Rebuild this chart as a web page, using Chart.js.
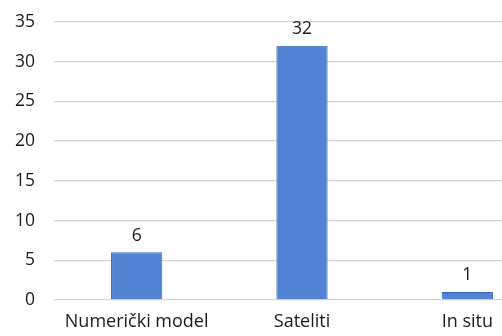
<!DOCTYPE html>
<html>
<head>
<meta charset="utf-8">
<script src="https://cdn.jsdelivr.net/npm/chart.js@4/dist/chart.umd.min.js"></script>
<style>
  html, body { margin: 0; padding: 0; background: #fff; overflow: hidden; }
  #wrap { width: 502px; height: 336px; overflow: hidden; position: relative; }
  #box { width: 552px; height: 336px; position: absolute; left: 0; top: 0; }
</style>
</head>
<body>
<div id="wrap"><div id="box"><canvas id="c"></canvas></div></div>
<script>
const categories = ['Numerički model', 'Sateliti', 'In situ'];
const counts = [6, 32, 1];
const yTicks = [0, 5, 10, 15, 20, 25, 30, 35];

const FONT = "'Open Sans', sans-serif";
const TEXT = '#1a1a1a';

// writes each bar's value just above it
const valueLabels = {
  id: 'valueLabels',
  afterDatasetsDraw(chart) {
    const ctx = chart.ctx;
    const meta = chart.getDatasetMeta(0);
    ctx.save();
    ctx.font = '17.5px ' + FONT;
    ctx.fillStyle = TEXT;
    ctx.textAlign = 'center';
    ctx.textBaseline = 'bottom';
    meta.data.forEach((bar, i) => {
      ctx.fillText(String(counts[i]), bar.x, bar.y - 8);
    });
    ctx.restore();
  }
};

new Chart(document.getElementById('c'), {
  type: 'bar',
  data: {
    labels: categories,
    datasets: [{
      data: counts,
      backgroundColor: '#5182d4',
      borderColor: '#3d68b3',
      borderWidth: 1,
      barPercentage: 1,
      categoryPercentage: 0.31
    }]
  },
  options: {
    responsive: true,
    maintainAspectRatio: false,
    animation: false,
    layout: { padding: { top: 22, right: 2, left: 0, bottom: 0 } },
    plugins: { legend: { display: false }, tooltip: { enabled: false } },
    scales: {
      x: {
        grid: { display: false, drawTicks: false },
        border: { display: false },
        ticks: { color: TEXT, font: { family: FONT, size: 18 }, padding: 11, maxRotation: 0 },
        afterFit(scale) { scale.height = 36; }
      },
      y: {
        min: 0, max: 35,
        afterBuildTicks(scale) { scale.ticks = yTicks.map(v => ({ value: v })); },
        grid: { color: '#d6d6d6', lineWidth: 1.3, drawTicks: true, tickLength: 16, tickColor: 'rgba(0,0,0,0)' },
        border: { display: false },
        ticks: { color: TEXT, font: { family: FONT, size: 17.5 }, padding: 3 },
        afterFit(scale) { scale.width = 54; }
      }
    }
  },
  plugins: [valueLabels]
});
</script>
</body>
</html>
